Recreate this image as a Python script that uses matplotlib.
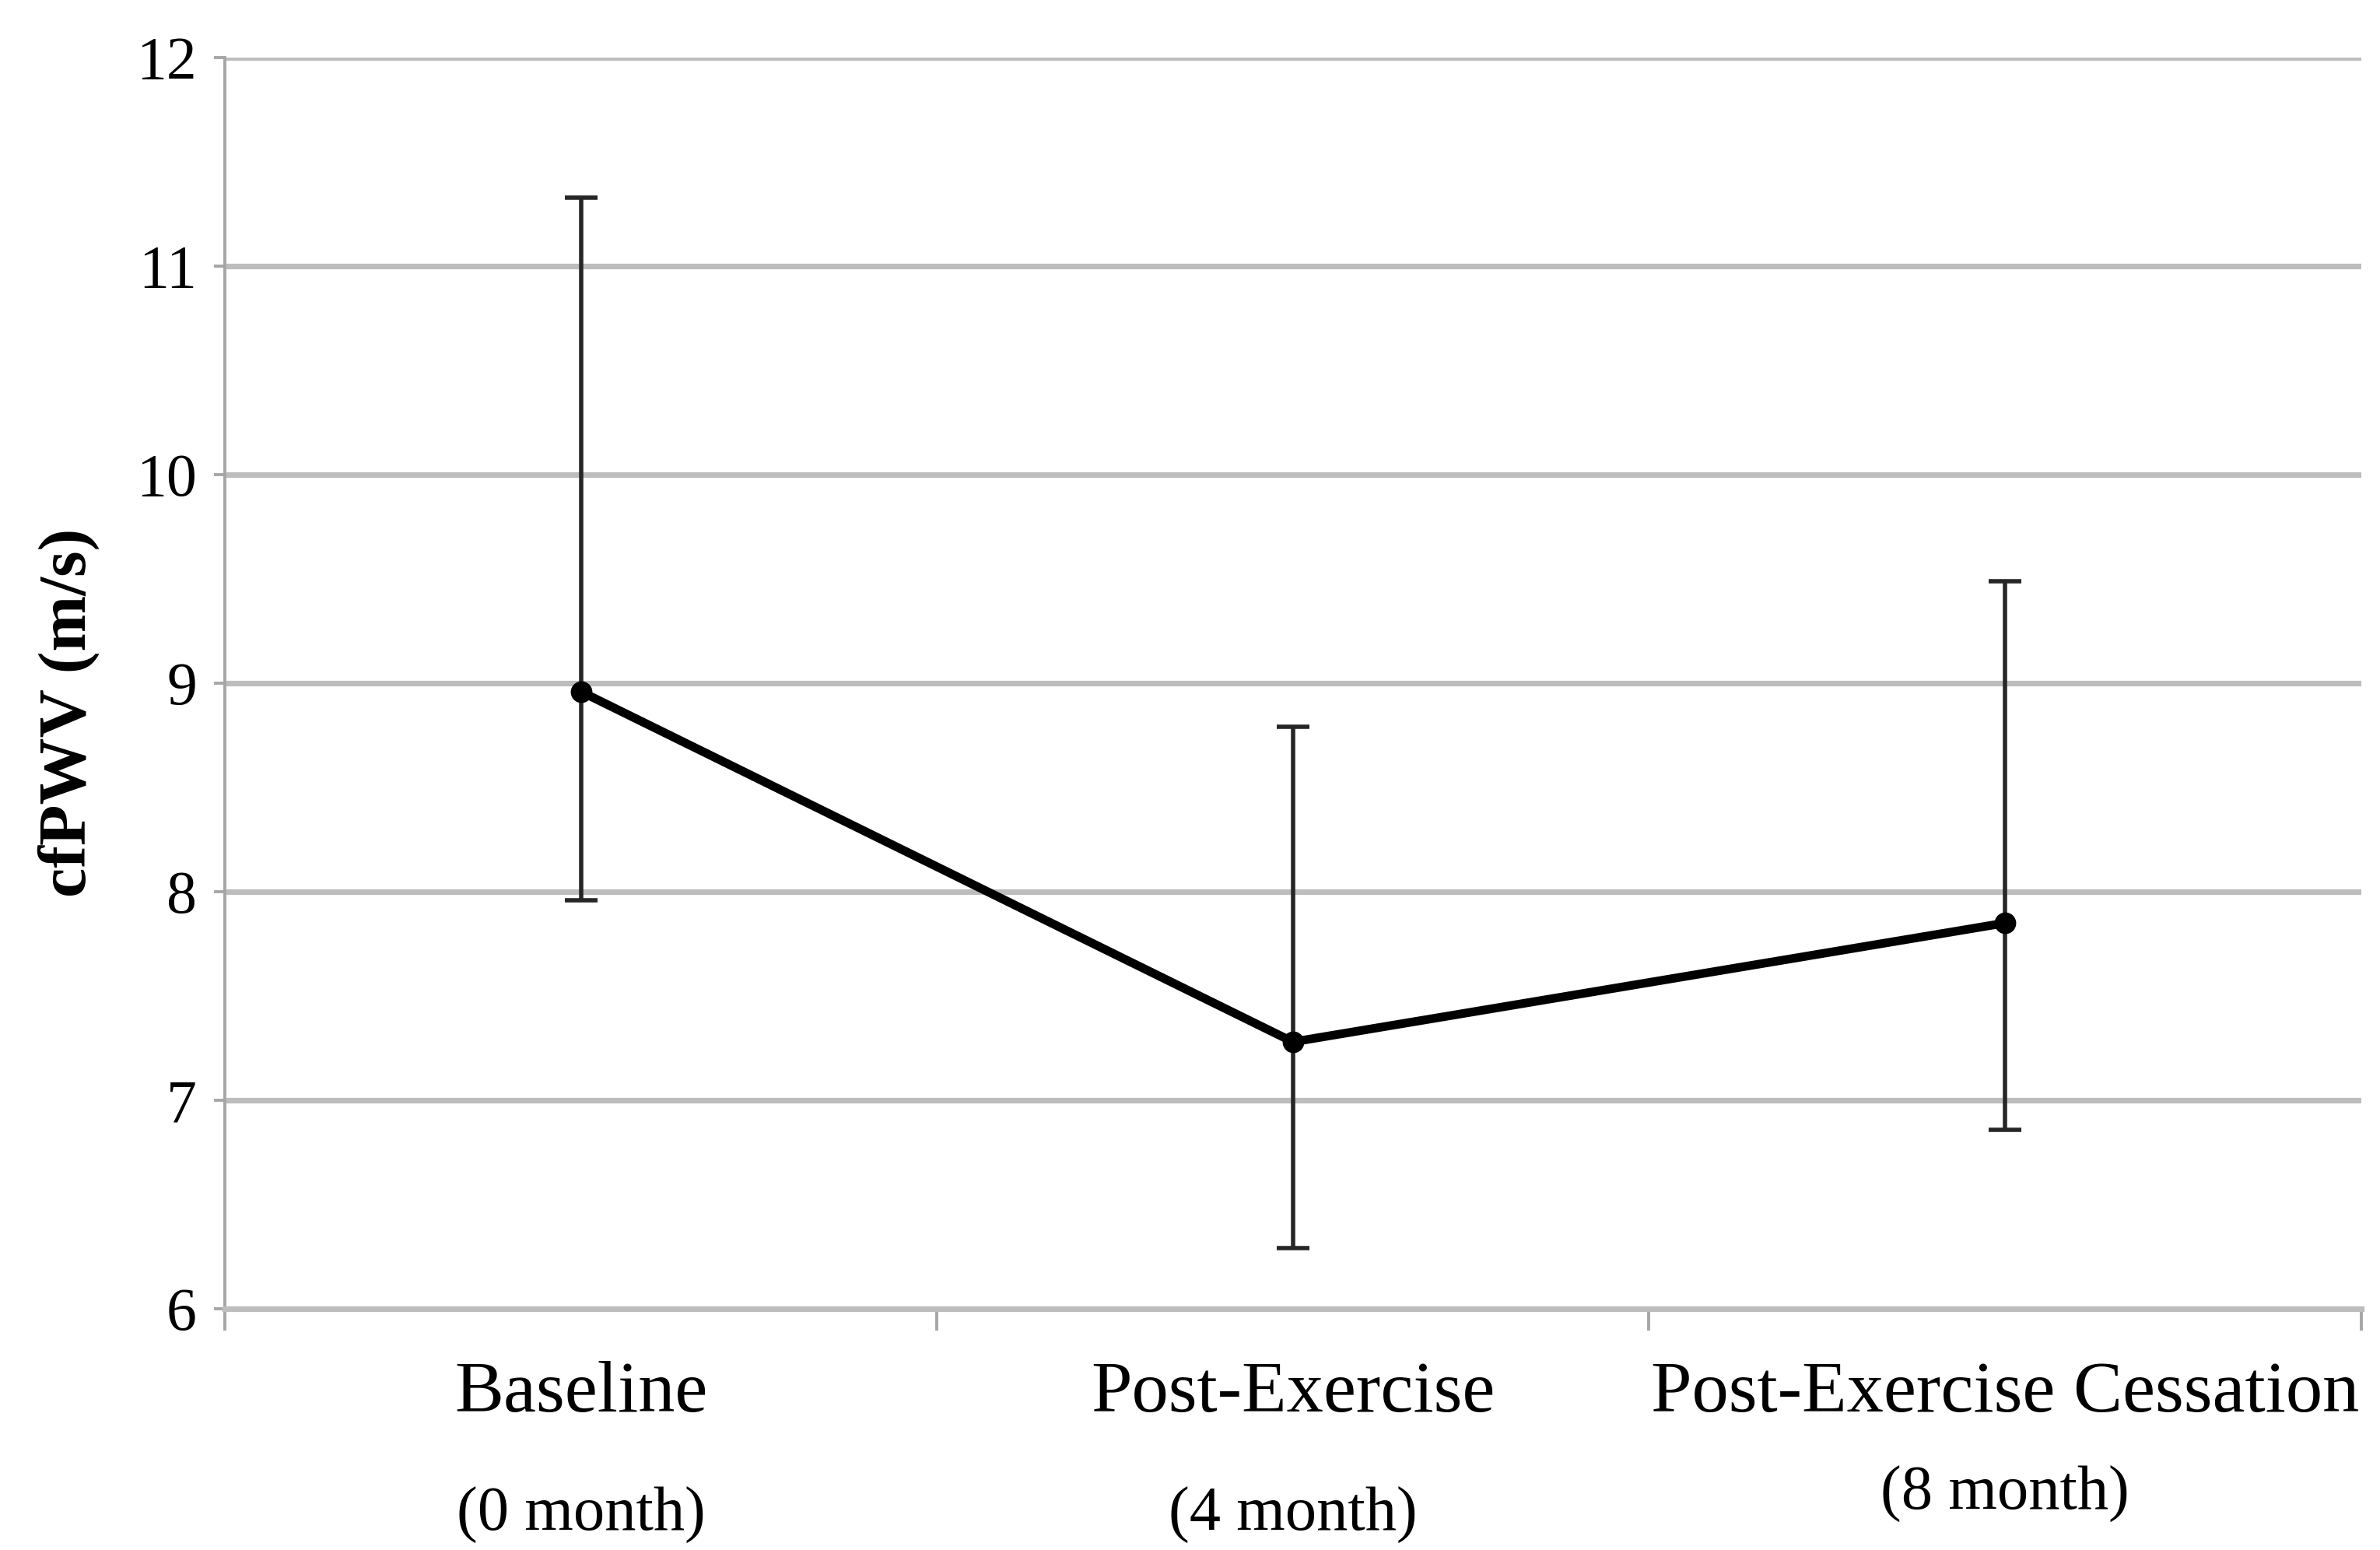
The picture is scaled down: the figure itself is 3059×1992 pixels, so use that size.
import matplotlib
matplotlib.use('Agg')
import matplotlib.pyplot as plt
import matplotlib.transforms as mtransforms

# data
categories = ['Baseline', 'Post-Exercise', 'Post-Exercise Cessation']
months = ['(0 month)', '(4 month)', '(8 month)']
means = [8.96, 7.28, 7.85]
err_upper = [11.33, 8.79, 9.49]
err_lower = [7.96, 6.29, 6.86]
y_ticks = [6, 7, 8, 9, 10, 11, 12]

plt.rcParams['font.family'] = ['Liberation Serif', 'DejaVu Serif']

fig = plt.figure(figsize=(15.295, 9.96), dpi=200)
ax = fig.add_axes([0.0945, 0.1556, 0.8975, 0.8072])

x = list(range(len(categories)))
yerr = [[m - lo for m, lo in zip(means, err_lower)],
        [hi - m for m, hi in zip(means, err_upper)]]

# error bars
ax.errorbar(x, means, yerr=yerr, fmt='none', ecolor='#262626',
            elinewidth=2.0, capsize=7.5, capthick=2.0, zorder=3)
# mean line
ax.plot(x, means, color='black', linewidth=4.0, marker='o',
        markersize=9, zorder=4)

ax.set_xlim(-0.5, 2.5)
ax.set_ylim(6, 12)
ax.set_yticks(y_ticks)
ax.set_yticklabels([str(t) for t in y_ticks], fontsize=28)

ax.yaxis.grid(True, color='#bdbdbd', linewidth=2.6)
ax.set_axisbelow(True)

for s in ['top', 'right']:
    ax.spines[s].set_visible(False)
ax.spines['left'].set_color('#a6a6a6')
ax.spines['left'].set_linewidth(1.4)
ax.spines['bottom'].set_color('#bdbdbd')
ax.spines['bottom'].set_linewidth(2.6)

ax.tick_params(axis='y', direction='out', length=5, width=1.4,
               color='#a6a6a6', pad=8)

# category labels at centers, tick marks at boundaries
ax.set_xticks(x)
ax.set_xticklabels(categories, fontsize=34)
ax.tick_params(axis='x', which='major', length=0, pad=24)
ax.set_xticks([-0.5, 0.5, 1.5, 2.5], minor=True)
ax.tick_params(axis='x', which='minor', direction='out', length=10,
               width=1.4, color='#a6a6a6')

trans = mtransforms.blended_transform_factory(ax.transData, ax.transAxes)
month_y = [-0.165, -0.165, -0.148]
for xi, lab, yy in zip(x, months, month_y):
    ax.text(xi, yy, lab, transform=trans, ha='center', va='center',
            fontsize=29)

fig.text(0.029, 0.54, 'cfPWV (m/s)', rotation=90, ha='center',
         va='center', fontsize=31, fontweight='bold')

fig.savefig('out.png', dpi=200, facecolor='white')
